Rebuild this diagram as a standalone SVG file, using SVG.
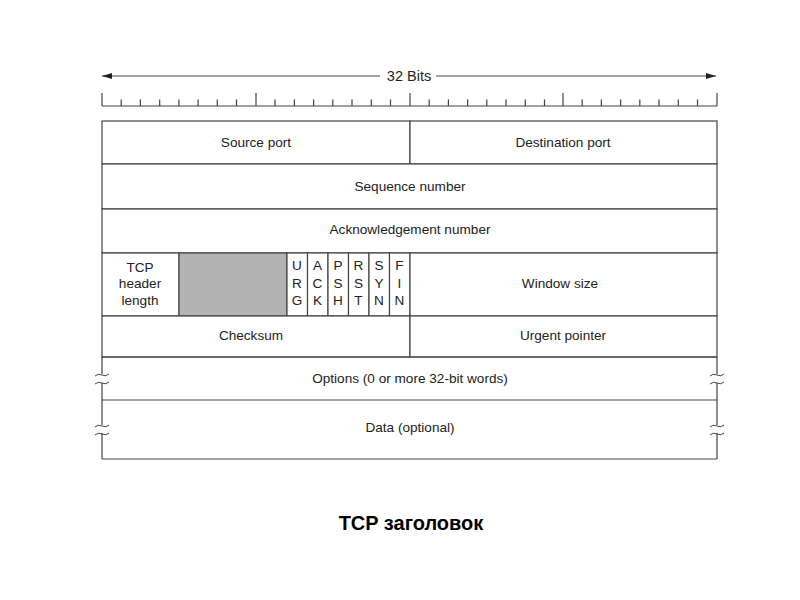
<svg xmlns="http://www.w3.org/2000/svg" width="800" height="600" viewBox="0 0 800 600">
<defs>
<marker id="ah" viewBox="0 0 10 6" refX="10" refY="3" markerWidth="10" markerHeight="6" orient="auto-start-reverse" markerUnits="userSpaceOnUse"><path d="M0,0 L10,3 L0,6 Z" fill="#222"/></marker>
<style>
text{font-family:"Liberation Sans",Arial,sans-serif;font-size:13.6px;fill:#222;text-anchor:middle}
.ln{stroke:#444;stroke-width:1.2;fill:none}
.tk{stroke:#444;stroke-width:1.2}
.cell{fill:#fff;stroke:#444;stroke-width:1.2}
.sq{stroke:#444;stroke-width:1;fill:none}
</style>
</defs>
<rect width="800" height="600" fill="#fff"/>
<g id="ruler">
<line class="ln" x1="102" y1="76" x2="380" y2="76" marker-start="url(#ah)"/>
<line class="ln" x1="436" y1="76" x2="716" y2="76" marker-end="url(#ah)"/>
<text x="409" y="81" style="font-size:14.5px">32 Bits</text>
<line class="tk" x1="102" y1="106" x2="717" y2="106"/>
<path class="tk" d="M102,93V106M256,93V106M410,93V106M563,93V106M717,93V106
M121.2,99.5V106M140.4,99.5V106M159.7,99.5V106M178.9,99.5V106M198.1,99.5V106M217.3,99.5V106M236.5,99.5V106
M275,99.5V106M294.4,99.5V106M313.6,99.5V106M332.8,99.5V106M352,99.5V106M371.3,99.5V106M390.5,99.5V106
M429.2,99.5V106M448.4,99.5V106M467.6,99.5V106M486.8,99.5V106M506,99.5V106M525.3,99.5V106M544.5,99.5V106
M582.2,99.5V106M601.4,99.5V106M620.6,99.5V106M639.8,99.5V106M659,99.5V106M678.3,99.5V106M697.5,99.5V106"/>
</g>
<g id="source-port"><rect class="cell" x="102" y="121" width="308" height="43"/><text x="256" y="147">Source port</text></g>
<g id="destination-port"><rect class="cell" x="410" y="121" width="307" height="43"/><text x="563" y="147">Destination port</text></g>
<g id="sequence-number"><rect class="cell" x="102" y="164" width="615" height="45"/><text x="410" y="191">Sequence number</text></g>
<g id="ack-number"><rect class="cell" x="102" y="209" width="615" height="44"/><text x="410" y="234">Acknowledgement number</text></g>
<g id="header-length"><rect class="cell" x="102" y="253" width="77" height="63"/>
<text x="140" y="272">TCP</text><text x="140" y="288">header</text><text x="140" y="305">length</text></g>
<g id="reserved"><rect x="179" y="253" width="108" height="63" fill="#b3b3b3" stroke="#444" stroke-width="1.2"/></g>
<g id="urg"><rect class="cell" x="287" y="253" width="20.5" height="63"/><text x="297" y="270">U</text><text x="297" y="288">R</text><text x="297" y="305">G</text></g>
<g id="ack"><rect class="cell" x="307.5" y="253" width="20.5" height="63"/><text x="317.5" y="270">A</text><text x="317.5" y="288">C</text><text x="317.5" y="305">K</text></g>
<g id="psh"><rect class="cell" x="328" y="253" width="20.5" height="63"/><text x="338" y="270">P</text><text x="338" y="288">S</text><text x="338" y="305">H</text></g>
<g id="rst"><rect class="cell" x="348.5" y="253" width="20.5" height="63"/><text x="358.5" y="270">R</text><text x="358.5" y="288">S</text><text x="358.5" y="305">T</text></g>
<g id="syn"><rect class="cell" x="369" y="253" width="20.5" height="63"/><text x="379" y="270">S</text><text x="379" y="288">Y</text><text x="379" y="305">N</text></g>
<g id="fin"><rect class="cell" x="389.5" y="253" width="20.5" height="63"/><text x="399.5" y="270">F</text><text x="399.5" y="288">I</text><text x="399.5" y="305">N</text></g>
<g id="window-size"><rect class="cell" x="410" y="253" width="307" height="63"/><text x="560" y="288">Window size</text></g>
<g id="checksum"><rect class="cell" x="102" y="316" width="308" height="41"/><text x="251" y="340">Checksum</text></g>
<g id="urgent-pointer"><rect class="cell" x="410" y="316" width="307" height="41"/><text x="563" y="340">Urgent pointer</text></g>
<g id="options">
<path class="ln" d="M102,357H717M102,357V374M102,383V400M717,357V374M717,383V400"/>
<text x="410" y="383">Options (0 or more 32-bit words)</text>
</g>
<g id="data">
<path class="ln" d="M102,400H717M102,459H717M102,400V425M102,433V459M717,400V425M717,433V459"/>
<text x="410" y="432">Data (optional)</text>
</g>
<g id="breaks">
<path class="sq" d="M95,376 q3,-3 7,-1 t7,-1 M95,384 q3,-3 7,-1 t7,-1"/>
<path class="sq" d="M95,427 q3,-3 7,-1 t7,-1 M95,435 q3,-3 7,-1 t7,-1"/>
<path class="sq" d="M710,376 q3,-3 7,-1 t7,-1 M710,384 q3,-3 7,-1 t7,-1"/>
<path class="sq" d="M710,427 q3,-3 7,-1 t7,-1 M710,435 q3,-3 7,-1 t7,-1"/>
</g>
<text x="411" y="530" style="font-size:20px;font-weight:bold;fill:#000">TCP заголовок</text>
</svg>
